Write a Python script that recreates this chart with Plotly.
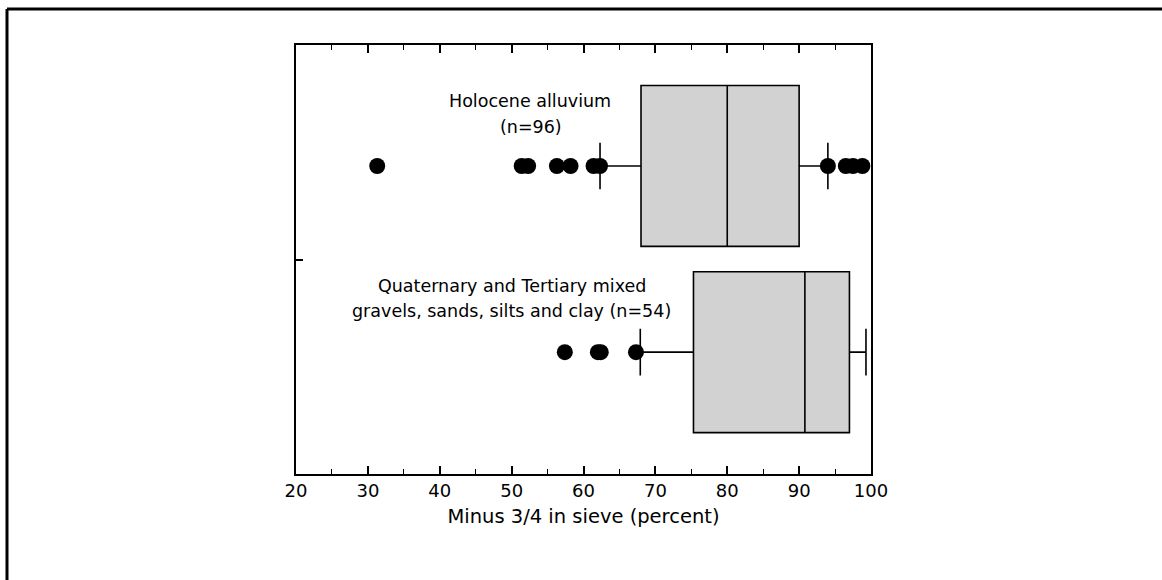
import plotly.graph_objects as go

# box statistics (percent passing 3/4 in sieve)
groups = ["Holocene alluvium", "Quaternary and Tertiary"]
positions = [0.718, 0.284]
q1 = [68.0, 75.3]
median = [80.0, 90.8]
q3 = [90.0, 97.0]
lowerfence = [62.3, 67.9]
upperfence = [94.0, 99.3]

# outliers
holo_out = [31.3, 51.4, 52.3, 56.3, 58.2, 61.4, 62.3, 94.0, 96.5, 97.5, 98.8]
quat_out = [57.4, 62.0, 62.4, 67.3]

# labels: text, x centre, y centre
label_text = ["Holocene alluvium", "(n=96)",
              "Quaternary and Tertiary mixed", "gravels, sands, silts and clay (n=54)"]
label_x = [52.6, 52.7, 50.1, 50.0]
label_y = [0.870, 0.809, 0.438, 0.380]

fig = go.Figure()

for i in range(2):
    fig.add_trace(go.Box(
        orientation="h",
        y=[positions[i]],
        q1=[q1[i]], median=[median[i]], q3=[q3[i]],
        lowerfence=[lowerfence[i]], upperfence=[upperfence[i]],
        width=0.375,
        whiskerwidth=0.29,
        fillcolor="#d2d2d2",
        line=dict(color="black", width=1.6),
        boxpoints=False,
        showlegend=False,
        name=groups[i],
    ))

fig.add_trace(go.Scatter(
    x=holo_out, y=[positions[0]] * len(holo_out), mode="markers",
    marker=dict(color="black", size=16), showlegend=False))
fig.add_trace(go.Scatter(
    x=quat_out, y=[positions[1]] * len(quat_out), mode="markers",
    marker=dict(color="black", size=16), showlegend=False))

font = dict(family="DejaVu Sans, sans-serif", size=17.5, color="black")

for t, x, y in zip(label_text, label_x, label_y):
    fig.add_annotation(x=x, y=y, text=t, showarrow=False, font=font,
                       xanchor="center", yanchor="middle")

# outer frame lines (top and left only)
L, R, T, B = 296, 291, 45, 106
W, H = 1162 - L - R, 580 - T - B
fig.add_shape(type="line", xref="paper", yref="paper",
              x0=(7 - L) / W, x1=(1162 - L) / W, y0=(580 - B - 9) / H, y1=(580 - B - 9) / H,
              line=dict(color="black", width=3))
fig.add_shape(type="line", xref="paper", yref="paper",
              x0=(7 - L) / W, x1=(7 - L) / W, y0=(580 - B - 9) / H, y1=-B / H,
              line=dict(color="black", width=3))

fig.update_xaxes(
    range=[20, 100], dtick=10, tick0=20,
    ticks="inside", ticklen=8, tickwidth=1.5, tickcolor="black",
    minor=dict(dtick=5, ticks="inside", ticklen=5, tickwidth=1.2, tickcolor="black"),
    showline=True, linecolor="black", linewidth=1.5, mirror="ticks",
    showgrid=False, zeroline=False,
    tickfont=dict(family="DejaVu Sans, sans-serif", size=18, color="black"),
    title=dict(text="Minus 3/4 in sieve (percent)",
               font=dict(family="DejaVu Sans, sans-serif", size=19.5, color="black"),
               standoff=9),
)
fig.update_yaxes(
    range=[0, 1], tickvals=[0.5], showticklabels=False,
    ticks="inside", ticklen=7, tickwidth=1.5, tickcolor="black",
    showline=True, linecolor="black", linewidth=1.5, mirror=True,
    showgrid=False, zeroline=False,
)

fig.update_layout(
    width=1162, height=580,
    margin=dict(l=L, r=R, t=T, b=B),
    paper_bgcolor="white", plot_bgcolor="white",
    font=font,
)

fig.write_html("out.html", config={"displayModeBar": False},
               post_script="document.body.style.margin='0';")
